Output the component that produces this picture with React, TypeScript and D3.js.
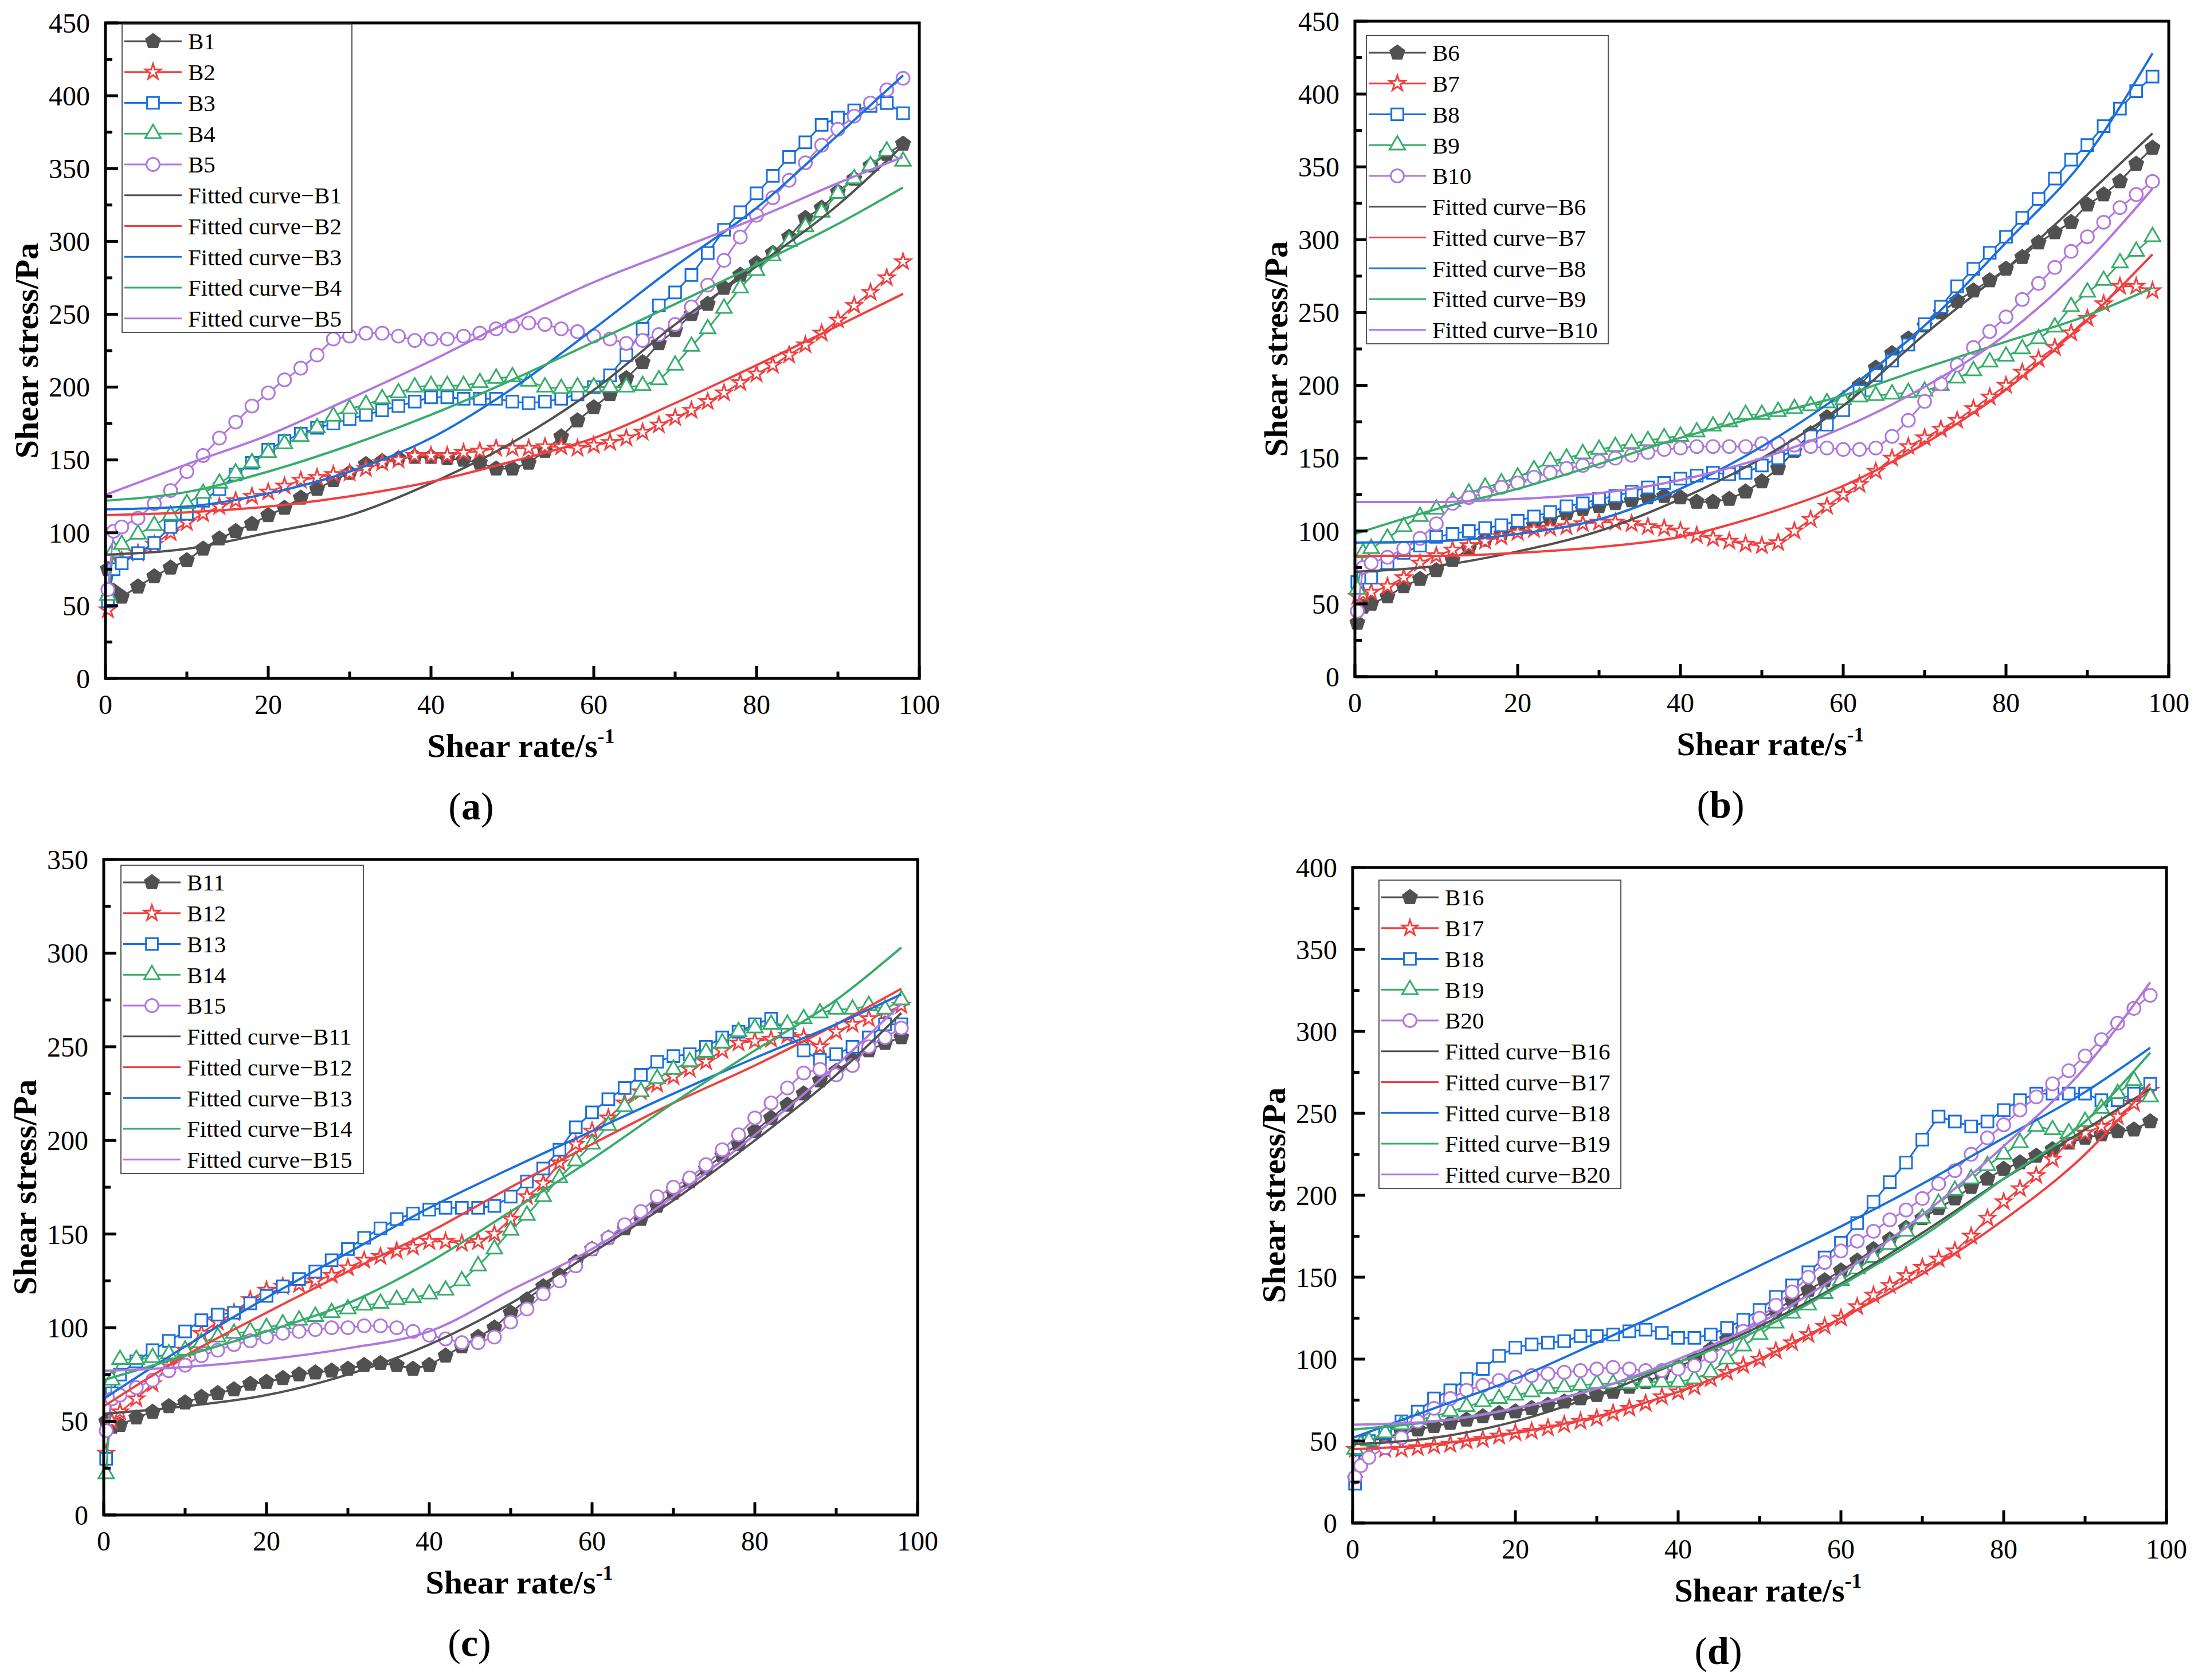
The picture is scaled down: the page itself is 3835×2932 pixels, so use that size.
import * as d3 from 'd3';

// shear rate grid of the measured points (s^-1)
const RATE = [0.3, 1, 2, 4, 6, 8, 10, 12, 14, 16, 18, 20, 22, 24, 26, 28, 30, 32, 34, 36, 38, 40,
  42, 44, 46, 48, 50, 52, 54, 56, 58, 60, 62, 64, 66, 68, 70, 72, 74, 76, 78, 80,
  82, 84, 86, 88, 90, 92, 94, 96, 98];
// shear rate grid used to sample the fitted curves
const FIT_RATE = [0, 10, 20, 30, 40, 50, 60, 70, 80, 90, 98];

// measured shear stress (Pa)
const B1 = [75, 60, 56, 63, 70, 76, 81, 89, 96, 101, 106, 112, 117, 124, 130, 136, 141, 147, 149, 151, 152, 152, 151, 150, 148, 144, 144, 148, 156, 166, 177, 186, 195, 206, 217, 230, 239, 250, 257, 268, 277, 285, 292, 303, 316, 323, 334, 343, 352, 360, 367];
const B2 = [47, 78, 81, 86, 92, 100, 107, 113, 118, 122, 125, 128, 132, 136, 138, 140, 141, 144, 148, 150, 153, 153, 153, 155, 156, 158, 158, 158, 159, 159, 158, 160, 162, 165, 169, 174, 179, 184, 190, 196, 203, 209, 215, 222, 229, 237, 246, 256, 265, 275, 286];
const B3 = [53, 75, 79, 86, 93, 104, 113, 122, 130, 140, 148, 157, 163, 168, 172, 175, 178, 181, 184, 187, 190, 193, 193, 192, 192, 192, 190, 189, 190, 192, 195, 200, 208, 222, 240, 256, 265, 277, 292, 308, 320, 333, 345, 358, 368, 380, 385, 390, 393, 395, 388];
const B4 = [57, 88, 92, 99, 105, 112, 120, 127, 134, 141, 148, 155, 161, 166, 172, 180, 185, 188, 192, 196, 200, 201, 201, 201, 203, 206, 207, 204, 200, 199, 200, 200, 200, 200, 201, 205, 215, 228, 240, 254, 268, 280, 290, 300, 310, 320, 333, 343, 352, 362, 355];
const B5 = [61, 101, 104, 110, 120, 129, 142, 153, 165, 176, 187, 196, 205, 213, 222, 233, 235, 237, 237, 235, 232, 233, 233, 235, 237, 240, 242, 244, 243, 240, 238, 235, 233, 230, 232, 236, 243, 255, 270, 287, 303, 318, 330, 342, 354, 366, 377, 386, 395, 404, 412];

const B6 = [37, 48, 50, 55, 62, 67, 73, 80, 88, 94, 98, 101, 104, 108, 112, 115, 117, 119, 121, 123, 124, 123, 120, 120, 122, 127, 134, 143, 155, 167, 178, 188, 200, 212, 222, 232, 241, 250, 258, 265, 272, 280, 288, 298, 305, 312, 324, 331, 340, 352, 363];
const B7 = [55, 57, 58, 62, 68, 78, 83, 87, 90, 93, 96, 99, 101, 102, 103, 105, 106, 106, 105, 103, 102, 100, 97, 95, 93, 91, 90, 92, 100, 108, 117, 125, 132, 141, 150, 158, 164, 170, 176, 184, 192, 200, 209, 218, 226, 236, 246, 256, 268, 268, 265];
const B8 = [65, 68, 68, 78, 85, 90, 96, 98, 100, 102, 104, 107, 110, 113, 117, 119, 122, 124, 127, 130, 133, 136, 138, 140, 139, 140, 145, 150, 156, 165, 173, 183, 196, 207, 217, 228, 242, 254, 268, 280, 291, 302, 315, 328, 342, 355, 365, 378, 390, 402, 412];
const B9 = [60, 85, 88, 95, 103, 110, 115, 120, 126, 130, 133, 137, 142, 148, 150, 153, 156, 158, 160, 162, 164, 165, 168, 172, 175, 180, 180, 182, 184, 186, 188, 190, 192, 193, 194, 195, 196, 200, 205, 210, 216, 220, 225, 232, 240, 254, 264, 272, 284, 292, 302];
const B10 = [45, 75, 78, 82, 88, 95, 105, 119, 123, 126, 130, 133, 137, 140, 143, 145, 148, 150, 152, 154, 156, 157, 158, 158, 158, 158, 160, 160, 159, 158, 157, 156, 156, 157, 165, 176, 189, 201, 214, 226, 237, 247, 259, 270, 281, 292, 302, 312, 322, 331, 340];

const B11 = [50, 47, 48, 52, 55, 58, 60, 63, 65, 67, 70, 71, 73, 75, 76, 77, 78, 80, 81, 80, 78, 80, 85, 90, 95, 100, 108, 115, 122, 128, 135, 142, 148, 153, 158, 165, 172, 178, 185, 192, 198, 205, 212, 219, 225, 232, 237, 243, 248, 252, 255];
const B12 = [33, 50, 55, 62, 70, 80, 88, 97, 103, 108, 115, 120, 122, 123, 125, 128, 132, 136, 138, 141, 143, 146, 146, 145, 146, 150, 158, 170, 177, 188, 198, 205, 212, 220, 226, 230, 234, 238, 242, 248, 252, 253, 254, 256, 255, 250, 258, 262, 265, 268, 272];
const B13 = [30, 65, 75, 82, 88, 93, 98, 104, 107, 108, 113, 117, 122, 126, 130, 136, 142, 148, 153, 158, 161, 163, 164, 164, 164, 165, 170, 178, 185, 195, 207, 215, 222, 228, 235, 242, 245, 246, 250, 255, 258, 262, 265, 258, 248, 243, 246, 250, 255, 262, 262];
const B14 = [22, 72, 83, 83, 84, 86, 88, 92, 95, 97, 98, 100, 102, 104, 106, 108, 110, 112, 113, 115, 116, 118, 120, 125, 133, 142, 152, 160, 170, 180, 189, 198, 208, 218, 226, 233, 238, 242, 247, 252, 258, 260, 262, 262, 265, 268, 270, 270, 272, 270, 275];
const B15 = [45, 62, 64, 68, 72, 77, 80, 85, 88, 91, 93, 95, 97, 98, 99, 100, 100, 101, 101, 100, 98, 96, 94, 92, 92, 95, 103, 110, 118, 125, 133, 142, 148, 155, 162, 170, 175, 180, 187, 195, 203, 212, 220, 228, 236, 238, 235, 240, 250, 255, 260];

const B16 = [27, 45, 50, 52, 55, 57, 59, 61, 63, 65, 67, 68, 70, 72, 74, 76, 78, 80, 83, 86, 90, 95, 100, 106, 112, 118, 124, 130, 136, 142, 148, 154, 160, 167, 173, 180, 186, 192, 198, 205, 210, 216, 220, 224, 228, 232, 235, 237, 239, 240, 245];
const B17 = [45, 45, 45, 45, 45, 46, 47, 48, 50, 51, 53, 55, 56, 58, 60, 62, 64, 67, 70, 73, 77, 80, 83, 88, 92, 96, 100, 105, 110, 115, 120, 125, 132, 139, 145, 151, 156, 161, 166, 175, 186, 196, 204, 212, 222, 233, 238, 242, 248, 256, 264];
const B18 = [24, 45, 50, 55, 62, 68, 76, 81, 88, 94, 102, 107, 109, 110, 111, 114, 114, 115, 117, 118, 116, 113, 113, 115, 119, 124, 130, 138, 145, 153, 162, 171, 183, 196, 208, 220, 234, 248, 245, 242, 245, 252, 258, 262, 262, 262, 262, 258, 258, 262, 268];
const B19 = [45, 48, 50, 55, 60, 63, 65, 68, 71, 74, 76, 78, 80, 82, 83, 84, 85, 85, 85, 86, 86, 86, 88, 92, 100, 108, 115, 122, 128, 133, 140, 148, 155, 162, 170, 178, 186, 195, 203, 210, 218, 225, 232, 242, 240, 238, 245, 253, 262, 270, 260];
const B20 = [28, 35, 40, 46, 52, 62, 70, 76, 81, 84, 87, 89, 90, 91, 92, 93, 94, 95, 94, 93, 93, 94, 96, 102, 109, 117, 125, 133, 141, 150, 159, 166, 172, 178, 185, 191, 198, 207, 215, 225, 235, 243, 252, 260, 268, 276, 285, 295, 305, 314, 322];

// fitted curves (Pa) at FIT_RATE
const F1 = [85, 89, 100, 112, 134, 162, 198, 243, 283, 325, 366];
const F2 = [112, 114, 118, 125, 135, 149, 165, 189, 215, 242, 264];
const F3 = [116, 118, 127, 142, 165, 199, 240, 283, 323, 373, 414];
const F4 = [122, 128, 142, 160, 181, 205, 231, 257, 284, 312, 337];
const F5 = [126, 147, 167, 192, 218, 246, 272, 294, 316, 340, 358];
const F6 = [72, 76, 86, 100, 122, 150, 186, 235, 280, 331, 373];
const F7 = [83, 83, 85, 89, 96, 111, 131, 160, 197, 245, 290];
const F8 = [92, 93, 98, 108, 129, 158, 195, 241, 298, 358, 428];
const F9 = [98, 115, 129, 146, 164, 179, 193, 212, 230, 248, 267];
const F10 = [120, 120, 122, 126, 135, 150, 171, 199, 235, 285, 335];
const F11 = [54, 58, 64, 75, 91, 113, 140, 168, 200, 235, 268];
const F12 = [58, 85, 108, 130, 151, 175, 198, 220, 240, 262, 281];
const F13 = [62, 90, 116, 140, 164, 185, 205, 225, 244, 262, 278];
const F14 = [72, 85, 98, 113, 135, 162, 190, 220, 248, 275, 303];
const F15 = [77, 79, 83, 89, 98, 120, 142, 170, 203, 240, 273];
const F16 = [48, 52, 62, 78, 98, 120, 146, 177, 210, 240, 265];
const F17 = [45, 48, 55, 65, 80, 100, 125, 152, 185, 225, 268];
const F18 = [52, 70, 88, 110, 133, 157, 181, 207, 235, 263, 290];
const F19 = [57, 62, 70, 82, 98, 118, 145, 175, 210, 245, 287];
const F20 = [60, 62, 70, 82, 100, 122, 152, 188, 230, 278, 330];

const COLORS = ['#515151', '#F14040', '#1A6FDF', '#37AD6B', '#B177DE'];
const FONT = "'Liberation Serif', 'Times New Roman', serif";

const symbolPentagon = {
  draw(ctx: any, size: number) {
    const r = Math.sqrt(size / 2.3776);
    for (let i = 0; i < 5; i++) {
      const a = -Math.PI / 2 + (i * 2 * Math.PI) / 5;
      if (i === 0) ctx.moveTo(r * Math.cos(a), r * Math.sin(a));
      else ctx.lineTo(r * Math.cos(a), r * Math.sin(a));
    }
    ctx.closePath();
  },
};

const MARKERS = [
  { type: symbolPentagon, size: 470, filled: true },
  { type: d3.symbolStar, size: 230, filled: false },
  { type: d3.symbolSquare, size: 430, filled: false },
  { type: d3.symbolTriangle, size: 320, filled: false },
  { type: d3.symbolCircle, size: 410, filled: false },
];

const PLOT_W = 1420;
const PLOT_H = 1144;

interface PanelProps {
  x0: number;
  top: number;
  yMax: number;
  names: string[];
  data: number[][];
  fits: number[][];
  legend: { dx: number; dy: number; w: number };
  label: string;
}

const Panel = ({ x0, top, yMax, names, data, fits, legend, label }: PanelProps) => {
  const x = d3.scaleLinear().domain([0, 100]).range([x0, x0 + PLOT_W]);
  const y = d3.scaleLinear().domain([0, yMax]).range([top + PLOT_H, top]);
  const y0 = top + PLOT_H;

  const dataLine = d3.line<number>().x((_, i) => x(RATE[i])).y(d => y(d));
  const fitLine = d3.line<number>().x((_, i) => x(FIT_RATE[i])).y(d => y(d)).curve(d3.curveMonotoneX);

  const xMajor = d3.range(0, 101, 20);
  const xMinor = d3.range(10, 100, 20);
  const yMajor = d3.range(0, yMax + 1, 50);
  const yMinor = d3.range(25, yMax, 50);

  const lx = x0 + legend.dx;
  const ly = top + legend.dy;
  const rowH = 53.75;

  const marker = (k: number) => d3.symbol(MARKERS[k].type as any, MARKERS[k].size)()!;

  return (
    <g fontFamily={FONT}>
      {/* measured data */}
      {data.map((vals, k) => (
        <g key={'d' + k}>
          <path d={dataLine(vals)!} fill="none" stroke={COLORS[k]} strokeWidth={3} />
          {vals.map((v, i) => (
            <path
              key={i}
              d={marker(k)}
              transform={`translate(${x(RATE[i])},${y(v)})`}
              fill={MARKERS[k].filled ? COLORS[k] : '#fff'}
              stroke={COLORS[k]}
              strokeWidth={MARKERS[k].filled ? 1 : 3}
            />
          ))}
        </g>
      ))}
      {/* fitted curves */}
      {fits.map((vals, k) => (
        <path key={'f' + k} d={fitLine(vals)!} fill="none" stroke={COLORS[k]} strokeWidth={4} />
      ))}

      {/* frame and ticks */}
      <rect x={x0} y={top} width={PLOT_W} height={PLOT_H} fill="none" stroke="#000" strokeWidth={5} />
      {xMajor.map(t => (
        <line key={'xM' + t} x1={x(t)} x2={x(t)} y1={y0} y2={y0 - 22} stroke="#000" strokeWidth={5} />
      ))}
      {xMinor.map(t => (
        <line key={'xm' + t} x1={x(t)} x2={x(t)} y1={y0} y2={y0 - 12} stroke="#000" strokeWidth={5} />
      ))}
      {yMajor.map(t => (
        <line key={'yM' + t} x1={x0} x2={x0 + 22} y1={y(t)} y2={y(t)} stroke="#000" strokeWidth={5} />
      ))}
      {yMinor.map(t => (
        <line key={'ym' + t} x1={x0} x2={x0 + 12} y1={y(t)} y2={y(t)} stroke="#000" strokeWidth={5} />
      ))}
      {xMajor.map(t => (
        <text key={'xl' + t} x={x(t)} y={y0 + 62} textAnchor="middle" fontSize={48}>{t}</text>
      ))}
      {yMajor.map(t => (
        <text key={'yl' + t} x={x0 - 27} y={y(t)} dy="0.35em" textAnchor="end" fontSize={48}>{t}</text>
      ))}

      {/* axis titles */}
      <text x={x0 + PLOT_W / 2 + 15} y={y0 + 137} textAnchor="middle" fontSize={58} fontWeight="bold">
        Shear rate/s<tspan dy={-24} fontSize={36}>-1</tspan>
      </text>
      <text
        transform={`translate(${x0 - 118},${top + PLOT_H / 2}) rotate(-90)`}
        textAnchor="middle"
        fontSize={58}
        fontWeight="bold"
      >
        Shear stress/Pa
      </text>

      {/* legend */}
      <rect x={lx} y={ly} width={legend.w} height={538} fill="#fff" stroke="#444" strokeWidth={1.8} />
      {names.map((n, k) => {
        const ry = ly + 30 + k * rowH;
        return (
          <g key={'l' + k}>
            <line x1={lx + 4} x2={lx + 104} y1={ry} y2={ry} stroke={COLORS[k]} strokeWidth={3} />
            <path
              d={marker(k)}
              transform={`translate(${lx + 54},${ry})`}
              fill={MARKERS[k].filled ? COLORS[k] : '#fff'}
              stroke={COLORS[k]}
              strokeWidth={MARKERS[k].filled ? 1 : 3}
            />
            <text x={lx + 115} y={ry} dy="0.35em" fontSize={41}>{n}</text>
          </g>
        );
      })}
      {names.map((n, k) => {
        const ry = ly + 30 + (k + 5) * rowH;
        return (
          <g key={'lf' + k}>
            <line x1={lx + 4} x2={lx + 104} y1={ry} y2={ry} stroke={COLORS[k]} strokeWidth={3} />
            <text x={lx + 115} y={ry} dy="0.35em" fontSize={41}>{'Fitted curve\u2212' + n}</text>
          </g>
        );
      })}

      {/* panel label */}
      <text x={x0 + PLOT_W / 2 - 72} y={y0 + 246} textAnchor="middle" fontSize={68}>
        (<tspan fontWeight="bold">{label}</tspan>)
      </text>
    </g>
  );
};

export default function App() {
  return (
    <div style={{ position: 'absolute', left: 0, top: 0 }}>
      <svg width={3835} height={2932} viewBox="0 0 3835 2932" style={{ display: 'block', background: '#fff' }}>
        <rect width={3835} height={2932} fill="#fff" />
        <Panel
          x0={184} top={40} yMax={450}
          names={['B1', 'B2', 'B3', 'B4', 'B5']}
          data={[B1, B2, B3, B4, B5]}
          fits={[F1, F2, F3, F4, F5]}
          legend={{ dx: 29, dy: 2, w: 401 }}
          label="a"
        />
        <Panel
          x0={2364} top={37} yMax={450}
          names={['B6', 'B7', 'B8', 'B9', 'B10']}
          data={[B6, B7, B8, B9, B10]}
          fits={[F6, F7, F8, F9, F10]}
          legend={{ dx: 20, dy: 25, w: 422 }}
          label="b"
        />
        <Panel
          x0={181} top={1500} yMax={350}
          names={['B11', 'B12', 'B13', 'B14', 'B15']}
          data={[B11, B12, B13, B14, B15]}
          fits={[F11, F12, F13, F14, F15]}
          legend={{ dx: 30, dy: 10, w: 423 }}
          label="c"
        />
        <Panel
          x0={2360} top={1514} yMax={400}
          names={['B16', 'B17', 'B18', 'B19', 'B20']}
          data={[B16, B17, B18, B19, B20]}
          fits={[F16, F17, F18, F19, F20]}
          legend={{ dx: 46, dy: 22, w: 422 }}
          label="d"
        />
      </svg>
    </div>
  );
}
